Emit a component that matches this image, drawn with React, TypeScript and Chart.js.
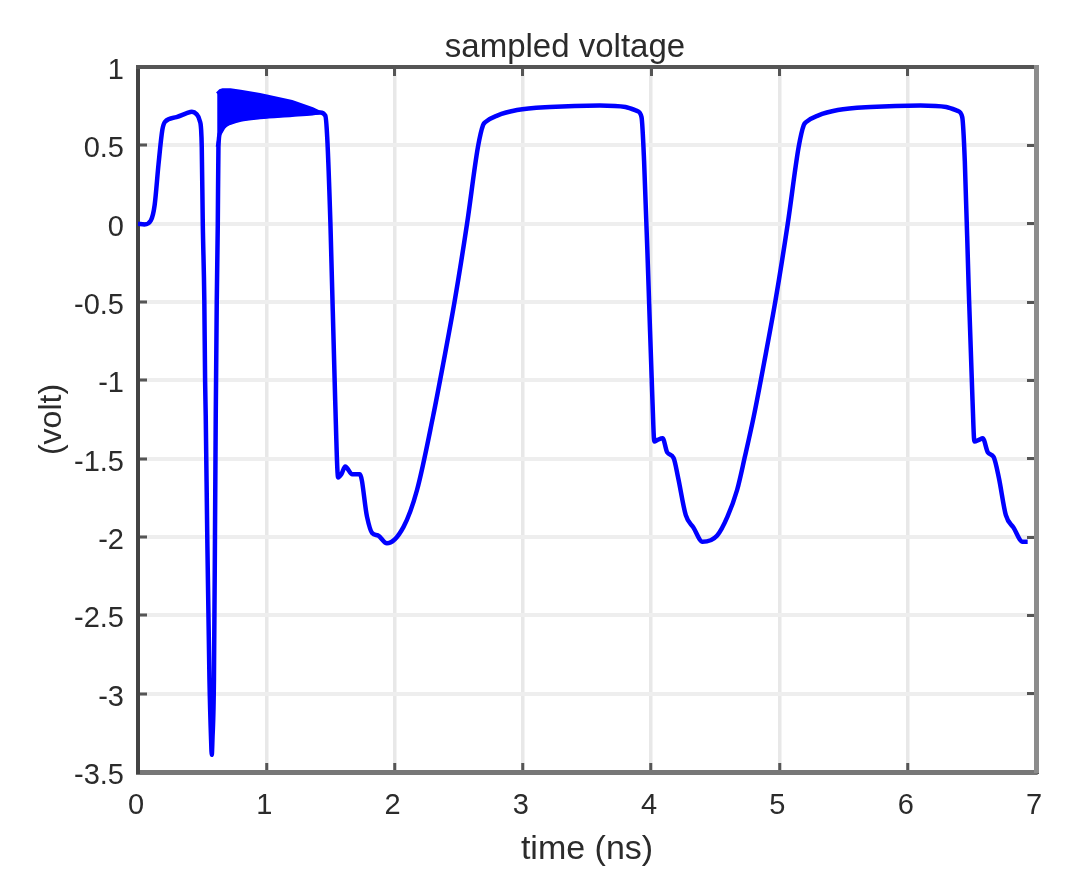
import { Chart, registerables } from "chart.js"
import React, { useEffect, useRef } from "react"

Chart.register(...registerables)

const FONT = "'Liberation Sans', Arial, sans-serif"
const TEXT = "#2b2b2b"

const timeNs = [
  0, 0.05, 0.1, 0.13, 0.16, 0.19, 0.21, 0.3, 0.38, 0.42, 0.455, 0.48, 0.492, 0.497,
  0.505, 0.517, 0.523, 0.528, 0.54, 0.557, 0.57, 0.575, 0.58, 0.592, 0.6, 0.606, 0.614, 0.622, 0.627,
  0.64, 0.68, 0.72, 0.8, 0.95, 1.2, 1.36, 1.42, 1.46, 1.475, 1.5, 1.537, 1.56, 1.585, 1.615,
  1.67, 1.73, 1.785, 1.825, 1.87, 1.94, 2.07, 2.175, 2.3, 2.38, 2.47, 2.565, 2.65, 2.69, 2.71, 2.8, 2.955, 3.21, 3.6, 3.8,
  3.89, 3.925, 3.945, 3.98, 4.01, 4.025, 4.05, 4.09, 4.125, 4.175, 4.21, 4.27, 4.33, 4.4, 4.515, 4.595, 4.67, 4.73,
  4.8, 4.88, 4.97, 5.065, 5.15, 5.19, 5.21, 5.3, 5.455, 5.71, 6.1, 6.3, 6.39, 6.425, 6.445, 6.475, 6.505, 6.52, 6.555,
  6.585, 6.625, 6.67, 6.71, 6.765, 6.825, 6.895, 6.935,
]
const voltage = [
  0, -0.005, 0.02, 0.12, 0.38, 0.6, 0.65, 0.68, 0.705, 0.715, 0.7, 0.66, 0.6, 0.49,
  0, -0.49, -1, -1.23, -2, -2.91, -3.3, -3.39, -3.3, -2.91, -2, -1.23, -0.49, 0, 0.49,
  0.58, 0.63, 0.645, 0.665, 0.68, 0.695, 0.705, 0.71, 0.69, 0.55, 0, -1.125, -1.62, -1.6, -1.55,
  -1.6, -1.6, -1.87, -1.975, -1.99, -2.04, -1.935, -1.7, -1.23, -0.89, -0.487, 0, 0.49, 0.63, 0.65, 0.69, 0.725, 0.745, 0.755, 0.745,
  0.72, 0.68, 0.4, -0.4, -1.125, -1.39, -1.38, -1.37, -1.46, -1.495, -1.62, -1.86, -1.94, -2.03, -1.99, -1.87, -1.7, -1.49,
  -1.23, -0.89, -0.487, 0, 0.49, 0.63, 0.65, 0.69, 0.725, 0.745, 0.755, 0.745, 0.72, 0.68, 0.4, -0.4, -1.125, -1.39, -1.38,
  -1.37, -1.46, -1.49, -1.62, -1.86, -1.94, -2.03, -2.03,
]

// the fast ringing after the spike reads as a solid band, so keep its envelope
const ringTime = [0.617, 0.64, 0.66, 0.72, 0.8, 0.95, 1.2, 1.36, 1.42]
const ringTop = [0.83, 0.85, 0.855, 0.855, 0.845, 0.825, 0.78, 0.735, 0.71]
const ringBottom = [0.49, 0.58, 0.61, 0.645, 0.665, 0.68, 0.695, 0.705, 0.71]

const toPoints = (xs: number[], ys: number[]) => xs.map((x, i) => ({ x, y: ys[i] }))

const titlePlugin = {
  id: "offsetTitle",
  afterDraw(chart: Chart) {
    const { ctx } = chart
    ctx.save()
    ctx.font = `33px ${FONT}`
    ctx.fillStyle = TEXT
    ctx.textAlign = "center"
    ctx.textBaseline = "alphabetic"
    ctx.fillText("sampled voltage", 565, 57)
    ctx.restore()
  },
}

const App: React.FC = () => {
  const chartRef = useRef<HTMLCanvasElement>(null)

  useEffect(() => {
    const ctx = chartRef.current?.getContext("2d")
    if (!ctx) return

    const tickStyle = { tickColor: "#555555", tickWidth: 3, tickLength: -9 }
    const chart = new Chart(ctx, {
      type: "line",
      data: {
        datasets: [
          {
            data: toPoints(ringTime, ringTop),
            borderColor: "#0000ff",
            backgroundColor: "#0000ff",
            borderWidth: 3,
            pointRadius: 0,
            fill: "+1",
          },
          {
            data: toPoints(ringTime, ringBottom),
            borderColor: "#0000ff",
            borderWidth: 3,
            pointRadius: 0,
            fill: false,
          },
          {
            data: toPoints(timeNs, voltage),
            borderColor: "#0000ff",
            borderWidth: 4.5,
            pointRadius: 0,
            cubicInterpolationMode: "monotone",
            fill: false,
          },
        ],
      },
      options: {
        animation: false,
        responsive: false,
        layout: { padding: { top: 67, right: 37, left: 0, bottom: 0 } },
        plugins: { legend: { display: false }, tooltip: { enabled: false } },
        scales: {
          x: {
            type: "linear",
            min: 0,
            max: 7,
            afterFit: (s: any) => {
              s.height = 118
            },
            grid: { color: "#e8e8e8", lineWidth: 3.5, ...tickStyle },
            border: { color: "#777777", width: 5 },
            ticks: {
              stepSize: 1,
              color: TEXT,
              font: { family: FONT, size: 29 },
              padding: 26,
              labelOffset: -2,
              maxRotation: 0,
              callback: (v: any) => String(v),
            },
            title: { display: true, text: "time (ns)", color: TEXT, font: { family: FONT, size: 34 }, padding: { top: 0, bottom: 20 } },
          },
          y: {
            min: -3.5,
            max: 1,
            afterFit: (s: any) => {
              s.width = 138
            },
            grid: { color: "#eeeeee", lineWidth: 4, ...tickStyle },
            border: { color: "#444444", width: 4 },
            ticks: {
              stepSize: 0.5,
              color: TEXT,
              font: { family: FONT, size: 29 },
              padding: 23,
              labelOffset: 4,
              callback: (v: any) => String(v),
            },
            title: { display: true, text: "(volt)", color: TEXT, font: { family: FONT, size: 32 }, padding: { top: 33, bottom: 0 } },
          },
          xTop: {
            type: "linear",
            position: "top",
            min: 0,
            max: 7,
            afterFit: (s: any) => {
              s.height = 0
            },
            grid: { drawOnChartArea: false, ...tickStyle },
            border: { color: "#555555", width: 4 },
            ticks: { stepSize: 1, display: false },
          },
          yRight: {
            position: "right",
            min: -3.5,
            max: 1,
            afterFit: (s: any) => {
              s.width = 0
            },
            grid: { drawOnChartArea: false, ...tickStyle },
            border: { color: "#8c8c8c", width: 5 },
            ticks: { stepSize: 0.5, display: false },
          },
        },
      },
      plugins: [titlePlugin],
    })

    return () => {
      chart.destroy()
    }
  }, [])

  return (
    <div style={{ position: "absolute", left: 0, top: 0, width: 1073, height: 890, background: "#fff" }}>
      <canvas ref={chartRef} width={1073} height={890} style={{ display: "block", filter: "blur(0.6px)" }}></canvas>
    </div>
  )
}

export default App
